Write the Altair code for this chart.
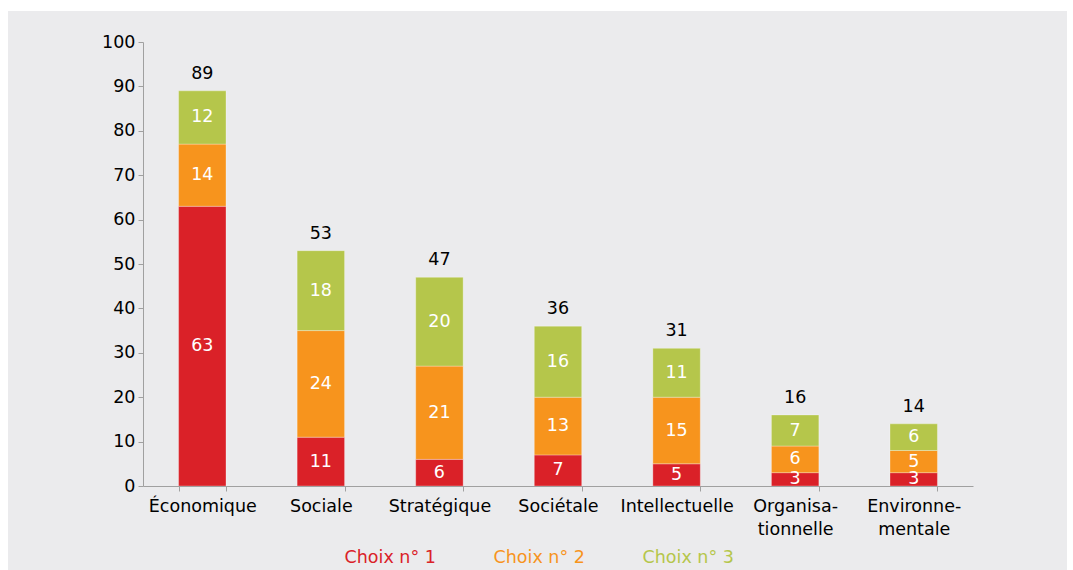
import altair as alt
import pandas as pd

categories = ["Économique", "Sociale", "Stratégique", "Sociétale", "Intellectuelle",
              "Organisa-\ntionnelle", "Environne-\nmentale"]
series = ["Choix n° 1", "Choix n° 2", "Choix n° 3"]
choix1 = [63, 11, 6, 7, 5, 3, 3]
choix2 = [14, 24, 21, 13, 15, 6, 5]
choix3 = [12, 18, 20, 16, 11, 7, 6]
colors = ["#da2128", "#f7941d", "#b5c64b"]
y_ticks = list(range(0, 101, 10))

FONT = "DejaVu Sans"
FS = 17.5

rows = []
for i, c in enumerate(categories):
    for k, vals in enumerate([choix1, choix2, choix3]):
        rows.append({"cat": c, "serie": series[k], "ord": k, "val": vals[i]})
df = pd.DataFrame(rows)

color_expr = " : ".join(
    [f"datum.value == '{s}' ? '{c}'" for s, c in zip(series[:-1], colors[:-1])]
) + f" : '{colors[-1]}'"

x_enc = alt.X(
    "cat:N", sort=categories,
    scale=alt.Scale(paddingInner=0.6, paddingOuter=0.3),
    axis=alt.Axis(title=None, labelAngle=0, tickBand="extent",
                  labelExpr="datum.value ? split(datum.value, '\\n') : ''",
                  labelFont=FONT, labelFontSize=FS, labelColor="#000000",
                  labelPadding=6, labelLineHeight=23, tickSize=5, zindex=1,
                  domainColor="#a0a0a0", tickColor="#a0a0a0", grid=False),
)
y_scale = alt.Scale(domain=[0, 100], nice=False)

base = alt.Chart(df).transform_stack(
    stack="val", groupby=["cat"], as_=["y0", "y1"],
    sort=[alt.SortField("ord", order="ascending")],
).transform_calculate(mid="(datum.y0 + datum.y1) / 2")

bg = alt.Chart(alt.Data(values=[{"a": 1}])).mark_rect(color="#ebebed").encode(
    x=alt.value(-135), x2=alt.value(924), y=alt.value(-31), y2=alt.value(528)
)

bars = base.mark_bar(stroke="#ffffff", strokeWidth=0.6, strokeOpacity=0.5).encode(
    x=x_enc,
    y=alt.Y("y0:Q", scale=y_scale,
            axis=alt.Axis(title=None, values=y_ticks, grid=False, tickSize=5,
                          labelFont=FONT, labelFontSize=FS, labelColor="#000000",
                          labelPadding=3, zindex=1,
                          domainColor="#a0a0a0", tickColor="#a0a0a0")),
    y2="y1:Q",
    color=alt.Color("serie:N", scale=alt.Scale(domain=series, range=colors),
                    legend=alt.Legend(orient="none", direction="horizontal",
                                      legendX=184, legendY=507, title=None,
                                      symbolSize=0, symbolStrokeWidth=0,
                                      symbolOpacity=0, labelOffset=0,
                                      columnPadding=40,
                                      labelFont=FONT, labelFontSize=FS,
                                      labelColor=alt.ExprRef(color_expr))),
)

seg_labels = base.mark_text(color="#ffffff", font=FONT, fontSize=FS,
                            baseline="middle", align="center").encode(
    x=alt.X("cat:N", sort=categories),
    y=alt.Y("mid:Q", scale=y_scale),
    text=alt.Text("val:Q"),
)

totals = alt.Chart(df).transform_aggregate(
    total="sum(val)", groupby=["cat"]
).mark_text(color="#000000", font=FONT, fontSize=FS, baseline="middle",
            align="center", dy=-17).encode(
    x=alt.X("cat:N", sort=categories),
    y=alt.Y("total:Q", scale=y_scale),
    text=alt.Text("total:Q"),
)

chart = alt.layer(bg, bars, seg_labels, totals).properties(
    width=830, height=444,
    autosize=alt.AutoSizeParams(type="none"),
    padding={"left": 143, "top": 42, "right": 100, "bottom": 84},
    background="#ffffff",
).configure_view(stroke=None)

chart.save("out.html", embed_options={"renderer": "svg", "actions": False})
